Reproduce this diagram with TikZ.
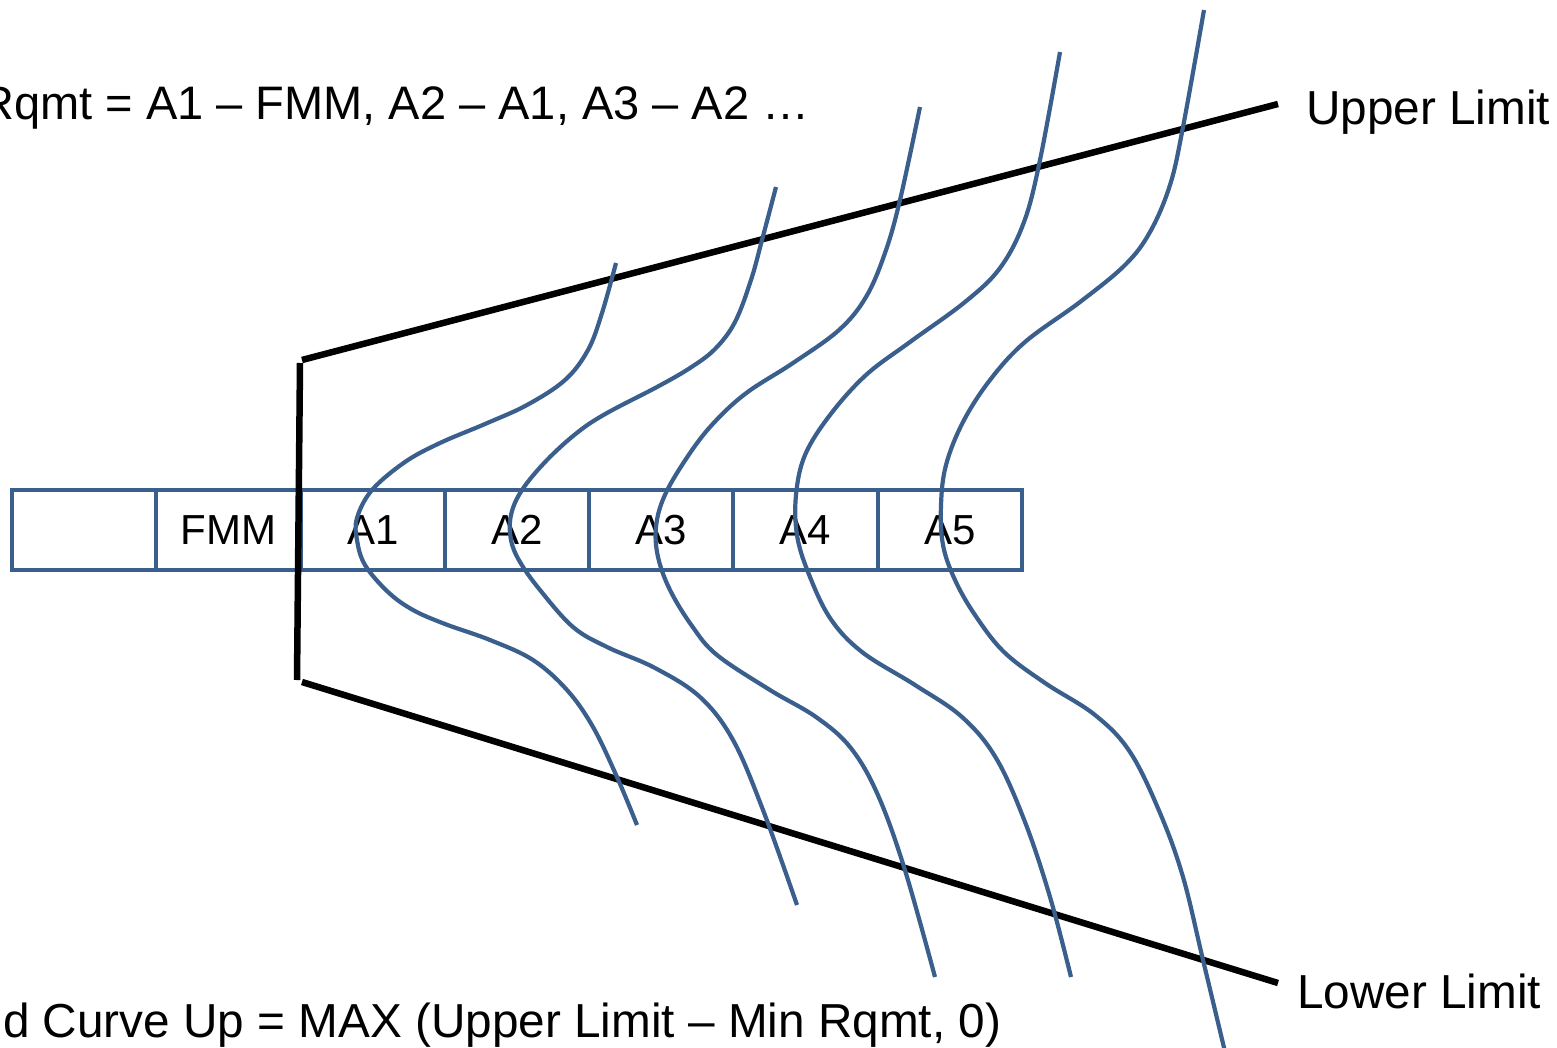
\documentclass[tikz,border=0pt]{standalone}
\usepackage{fontspec}
\setmainfont{Liberation Sans}
\definecolor{curveblue}{RGB}{58,95,140}
\begin{document}
\begin{tikzpicture}[x=1pt,y=-1pt,
  cell/.style={draw=curveblue, line width=4pt, minimum width=144.3pt, minimum height=80pt,
    inner sep=0pt, font=\fontsize{42}{50}\selectfont},
  lbl/.style={font=\fontsize{47.7}{57}\selectfont, inner sep=0pt},
  lim/.style={line width=6.5pt, black},
  crv/.style={draw=curveblue, line width=4.2pt}]
\useasboundingbox (0,0) rectangle (1557,1048);

% row of cells
\node[cell] (c0) at (84.1,530) {};
\node[cell] (c1) at (228.4,530) {FMM};
\node[cell] (c2) at (372.7,530) {A1};
\node[cell] (c3) at (517.0,530) {A2};
\node[cell] (c4) at (661.3,530) {A3};
\node[cell] (c5) at (805.6,530) {A4};
\node[cell] (c6) at (949.9,530) {A5};

% texts
\node[lbl, font=\fontsize{47}{56}\selectfont, anchor=base west] (rq) at (-20,120) {Rqmt = A1 – FMM, A2 – A1, A3 – A2 …};
\node[lbl, anchor=base west] (ul) at (1306,125) {Upper Limit};
\node[lbl, anchor=base west] (ll) at (1297,1008) {Lower Limit};
\node[lbl, anchor=base west] (fm) at (3,1037) {d Curve Up = MAX (Upper Limit – Min Rqmt, 0)};

% limit lines
\coordinate (vt) at (300,363);
\coordinate (vb) at (297,680);
\coordinate (us) at (302,360);
\coordinate (ue) at (1278,104);
\coordinate (ls) at (302,682);
\coordinate (le) at (1278,983);
\draw[lim] (vt) -- (vb);
\draw[lim] (us) -- (ue);
\draw[lim] (ls) -- (le);

% curves
\draw[crv] plot[smooth, tension=0.6] coordinates {
 (616,263) (602,313) (588,350) (565,380) (527,405) (485,424) (440,443)
 (405,462) (372,490) (357,518) (357,540) (365,565) (388,592) (413,610)
 (445,624) (490,640) (533,660) (567,690) (593,727) (617,777) (637,825)};
\draw[crv] plot[smooth, tension=0.6] coordinates {
 (776,187) (762,240) (751,280) (735,322) (715,349) (690,368) (657,387) (607,413)
 (578,432) (547,460) (522,490) (511,515) (511,540) (520,562) (540,590) (573,627)
 (607,647) (655,668) (700,697) (733,740) (763,810) (797,905)};
\draw[crv] plot[smooth, tension=0.6] coordinates {
 (920,107) (900,200) (885,253) (866,297) (839,330) (793,363) (745,394) (710,427)
 (684,462) (664,497) (656,527) (658,557) (670,590) (692,626) (717,655) (770,690)
 (816,717) (850,747) (877,793) (904,867) (935,977)};
\draw[crv] plot[smooth, tension=0.6] coordinates {
 (1060,52) (1040,160) (1024,222) (1000,268) (965,302) (910,342) (866,375)
 (830,415) (805,455) (796,495) (797,535) (808,572) (830,618) (862,652)
 (915,685) (962,717) (996,758) (1025,822) (1050,897) (1071,977)};
\draw[crv] plot[smooth, tension=0.6] coordinates {
 (1204,10) (1183,127) (1170,185) (1150,232) (1125,265) (1080,302) (1025,342)
 (990,380) (963,422) (946,465) (941,505) (943,545) (955,580) (975,615)
 (1004,652) (1045,683) (1095,715) (1130,752) (1160,813) (1183,877) (1203,960) (1226,1056)};
\end{tikzpicture}
\end{document}
